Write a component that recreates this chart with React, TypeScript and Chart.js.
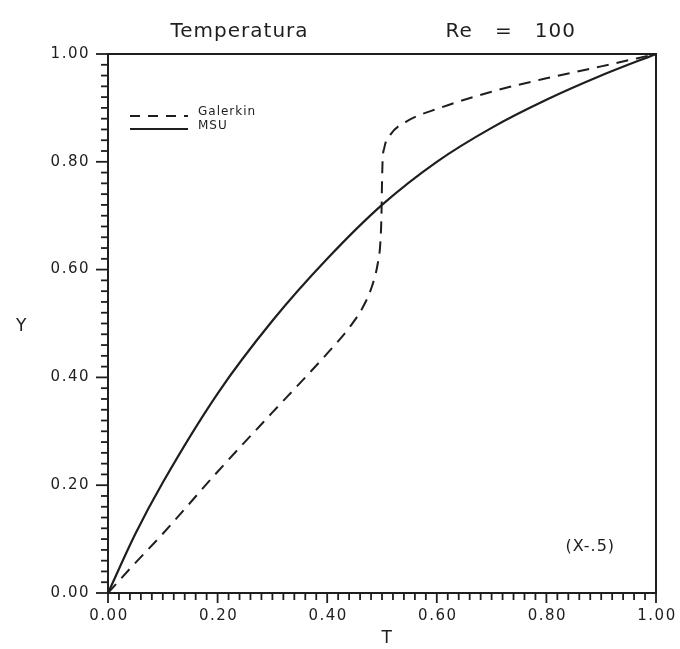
import React, { useEffect, useRef } from "react";
import { Chart, registerables } from "chart.js";

Chart.register(...registerables);

const titleLeft = "Temperatura";
const titleRight = "Re   =   100";
const xAxisTitle = "T";
const yAxisTitle = "Y";
const annotation = "(X-.5)";

const seriesNames = ["Galerkin", "MSU"];

const galerkinT = [0, 0.04, 0.1, 0.2, 0.3, 0.36, 0.405, 0.44, 0.465, 0.482, 0.492, 0.497, 0.499, 0.5, 0.501, 0.504, 0.515, 0.545, 0.606, 0.7, 0.8, 0.9, 1.0];
const galerkinY = [0, 0.045, 0.11, 0.225, 0.335, 0.40, 0.45, 0.492, 0.53, 0.57, 0.61, 0.65, 0.70, 0.76, 0.80, 0.825, 0.85, 0.875, 0.9, 0.93, 0.955, 0.977, 1.0];

const msuT = [0, 0.05, 0.1, 0.2, 0.3, 0.4, 0.5, 0.6, 0.7, 0.8, 0.9, 1.0];
const msuY = [0, 0.11, 0.205, 0.37, 0.505, 0.62, 0.72, 0.80, 0.863, 0.915, 0.96, 1.0];

const tickValues = [0, 0.2, 0.4, 0.6, 0.8, 1.0];
const tickLabels = ["0.00", "0.20", "0.40", "0.60", "0.80", "1.00"];
const minorStep = 0.02;

const INK = "#1e1e1e";
const FONT = "'DejaVu Sans', sans-serif";

const decorPlugin = {
  id: "decor",
  afterDraw(chart: any) {
    const { ctx, chartArea } = chart;
    const xs = chart.scales.x;
    const ys = chart.scales.y;
    const { left, right, top, bottom } = chartArea;
    ctx.save();
    ctx.strokeStyle = INK;
    ctx.fillStyle = INK;
    // frame
    ctx.lineWidth = 2;
    ctx.setLineDash([]);
    ctx.strokeRect(left, top, right - left, bottom - top);
    // minor & major ticks
    const n = Math.round(1 / minorStep);
    ctx.lineWidth = 1.8;
    for (let i = 0; i <= n; i++) {
      const v = i * minorStep;
      const major = i % 10 === 0;
      const py = ys.getPixelForValue(v);
      ctx.beginPath();
      ctx.moveTo(left - (major ? 12 : 7), py);
      ctx.lineTo(left, py);
      ctx.stroke();
      const px = xs.getPixelForValue(v);
      ctx.beginPath();
      ctx.moveTo(px, bottom);
      ctx.lineTo(px, bottom + (major ? 10 : 7));
      ctx.stroke();
    }
    // tick labels
    ctx.font = `15px ${FONT}`;
    try { (ctx as any).letterSpacing = "1.5px"; } catch (e) {}
    ctx.textBaseline = "middle";
    tickValues.forEach((v, i) => {
      ctx.textAlign = "right";
      ctx.fillText(tickLabels[i], left - 18, ys.getPixelForValue(v));
      ctx.textAlign = "center";
      ctx.fillText(tickLabels[i], xs.getPixelForValue(v) + 1, bottom + 23);
    });
    // axis titles
    ctx.font = `17px ${FONT}`;
    ctx.textAlign = "center";
    ctx.fillText(yAxisTitle, 22, ys.getPixelForValue(0.495));
    ctx.fillText(xAxisTitle, xs.getPixelForValue(0.51), bottom + 46);
    // title
    ctx.font = `20px ${FONT}`;
    try { (ctx as any).letterSpacing = "1px"; } catch (e) {}
    ctx.fillText(titleLeft, xs.getPixelForValue(0.24), 32);
    ctx.fillText(titleRight, xs.getPixelForValue(0.735), 32);
    // annotation
    ctx.font = `16px ${FONT}`;
    ctx.fillText(annotation, xs.getPixelForValue(0.88), ys.getPixelForValue(0.085));
    // legend
    ctx.font = `12px ${FONT}`;
    try { (ctx as any).letterSpacing = "1px"; } catch (e) {}
    ctx.textAlign = "left";
    const lx0 = left + 22;
    const lx1 = left + 80;
    const ly1 = top + 62;
    const ly2 = top + 75;
    ctx.lineWidth = 2;
    ctx.setLineDash([10, 8]);
    ctx.beginPath();
    ctx.moveTo(lx0, ly1);
    ctx.lineTo(lx1, ly1);
    ctx.stroke();
    ctx.setLineDash([]);
    ctx.beginPath();
    ctx.moveTo(lx0, ly2);
    ctx.lineTo(lx1, ly2);
    ctx.stroke();
    ctx.fillText(seriesNames[0], lx1 + 10, ly1 - 4);
    ctx.fillText(seriesNames[1], lx1 + 10, ly2 - 3);
    ctx.restore();
  },
};

export default function App() {
  const ref = useRef<HTMLCanvasElement | null>(null);
  useEffect(() => {
    document.body.style.margin = "0";
    const canvas = ref.current;
    if (!canvas) return;
    const chart = new Chart(canvas, {
      type: "line",
      data: {
        datasets: [
          {
            label: seriesNames[0],
            data: galerkinT.map((t, i) => ({ x: t, y: galerkinY[i] })),
            borderColor: INK,
            borderWidth: 2,
            borderDash: [12, 8],
            pointRadius: 0,
            cubicInterpolationMode: "monotone",
            fill: false,
          },
          {
            label: seriesNames[1],
            data: msuT.map((t, i) => ({ x: t, y: msuY[i] })),
            borderColor: INK,
            borderWidth: 2.2,
            pointRadius: 0,
            cubicInterpolationMode: "monotone",
            fill: false,
          },
        ],
      },
      options: {
        animation: false,
        responsive: false,
        devicePixelRatio: 1,
        layout: { padding: { left: 0, right: 24, top: 54, bottom: 0 } },
        plugins: { legend: { display: false }, title: { display: false }, tooltip: { enabled: false } },
        scales: {
          x: {
            type: "linear",
            min: 0,
            max: 1,
            grid: { display: false },
            border: { display: false },
            ticks: { display: false },
            afterFit: (s: any) => { s.height = 56; },
          },
          y: {
            type: "linear",
            min: 0,
            max: 1,
            grid: { display: false },
            border: { display: false },
            ticks: { display: false },
            afterFit: (s: any) => { s.width = 108; },
          },
        },
      },
      plugins: [decorPlugin],
    });
    return () => chart.destroy();
  }, []);
  return (
    <div style={{ width: 680, height: 649, background: "#fff" }}>
      <canvas ref={ref} width={680} height={649} style={{ display: "block" }} />
    </div>
  );
}
